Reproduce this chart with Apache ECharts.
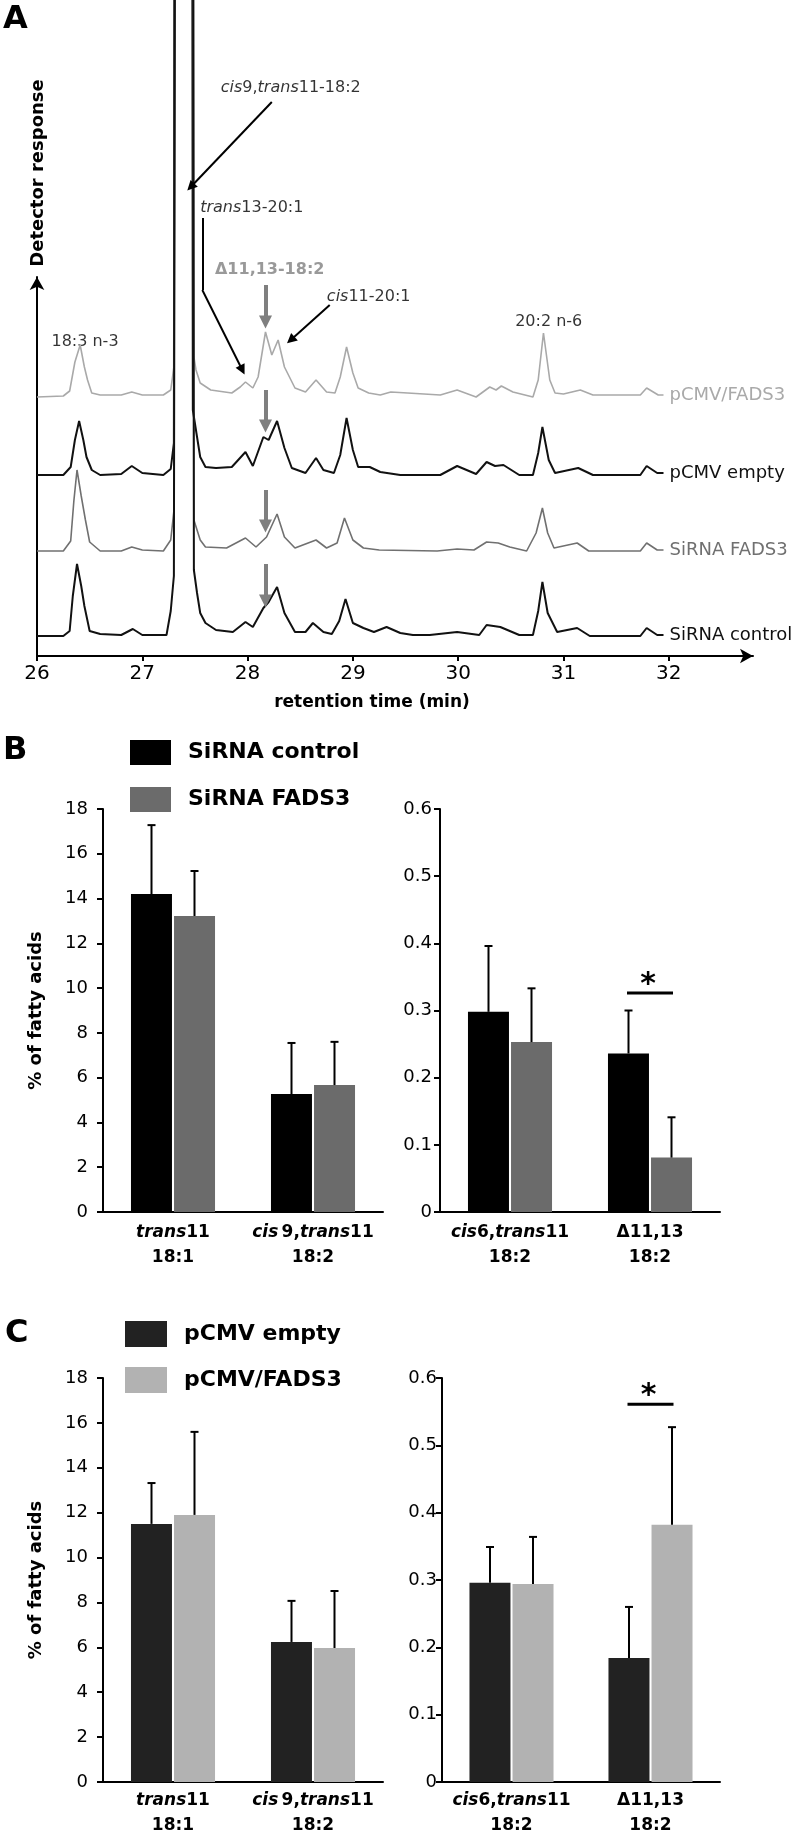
<!DOCTYPE html>
<html><head><meta charset="utf-8">
<script src="https://cdn.jsdelivr.net/npm/echarts@6/dist/echarts.min.js"></script>
<style>html,body{margin:0;padding:0;background:#fff}#c{width:797px;height:1836px}</style>
</head><body><div id="c"></div>
<script>
// ---------------- Panel A : chromatograms ----------------
// [retention time (min), detector response above the trace's own baseline]
const traceNames = ['pCMV/FADS3', 'pCMV empty', 'SiRNA FADS3', 'SiRNA control'];
const tracePCMVFADS3 = [[26.0,0],[26.25,1],[26.31,6],[26.36,35],[26.41,52],[26.45,30],[26.48,17],[26.52,4],[26.6,2],[26.8,2],[26.9,5],[27.0,2],[27.2,2],[27.27,7],[27.3,30],[27.33,2000],[27.47,2000],[27.49,40],[27.51,27],[27.55,14],[27.65,7],[27.85,4],[27.93,10],[27.98,15],[28.05,9],[28.1,20],[28.17,65],[28.23,42],[28.29,57],[28.35,30],[28.45,9],[28.55,5],[28.65,17],[28.75,5],[28.83,4],[28.88,20],[28.94,50],[29.0,24],[29.05,9],[29.15,4],[29.26,2],[29.36,5],[29.52,4],[29.83,2],[29.99,7],[30.17,0],[30.3,10],[30.36,7],[30.41,11],[30.52,5],[30.71,0],[30.76,17],[30.81,64],[30.87,17],[30.92,4],[31.0,3],[31.16,7],[31.28,2],[31.73,2],[31.79,9],[31.9,2],[31.95,2]];
const tracePCMVEmpty = [[26.0,0],[26.25,0],[26.32,8],[26.36,35],[26.4,54],[26.44,35],[26.47,18],[26.52,5],[26.6,0],[26.8,1],[26.9,9],[27.0,2],[27.2,0],[27.27,6],[27.3,32],[27.32,2000],[27.46,2000],[27.48,65],[27.52,38],[27.55,18],[27.6,8],[27.7,7],[27.85,8],[27.98,23],[28.05,9],[28.15,38],[28.2,35],[28.28,54],[28.35,27],[28.42,7],[28.55,2],[28.65,17],[28.72,5],[28.82,2],[28.88,20],[28.94,57],[29.0,25],[29.05,8],[29.16,8],[29.26,3],[29.45,0],[29.83,0],[29.99,9],[30.17,1],[30.27,13],[30.35,9],[30.43,10],[30.58,0],[30.71,0],[30.76,22],[30.8,48],[30.86,15],[30.92,2],[31.14,7],[31.28,0],[31.73,0],[31.79,9],[31.89,2],[31.95,2]];
const traceSiRNAFADS3 = [[26.0,0],[26.25,0],[26.32,10],[26.35,50],[26.38,81],[26.42,55],[26.46,31],[26.5,9],[26.6,0],[26.8,0],[26.9,4],[27.0,1],[27.2,0],[27.27,11],[27.3,40],[27.33,2000],[27.47,2000],[27.49,31],[27.55,11],[27.6,4],[27.8,3],[27.98,13],[28.08,4],[28.18,14],[28.28,37],[28.35,14],[28.45,3],[28.65,11],[28.75,3],[28.85,8],[28.92,33],[29.0,11],[29.1,3],[29.25,1],[29.8,0],[29.99,2],[30.15,1],[30.27,9],[30.38,8],[30.49,4],[30.65,0],[30.74,18],[30.8,43],[30.85,18],[30.91,3],[31.13,8],[31.24,0],[31.73,0],[31.79,8],[31.89,1],[31.95,1]];
const traceSiRNAControl = [[26.0,0],[26.25,0],[26.31,5],[26.34,40],[26.38,72],[26.42,50],[26.45,30],[26.5,5],[26.6,2],[26.8,1],[26.91,7],[27.0,1],[27.23,1],[27.27,25],[27.3,60],[27.33,2000],[27.47,2000],[27.49,66],[27.52,43],[27.55,23],[27.6,13],[27.7,6],[27.86,4],[27.98,14],[28.05,9],[28.15,28],[28.2,34],[28.28,49],[28.35,23],[28.45,4],[28.55,4],[28.62,13],[28.72,4],[28.8,2],[28.87,15],[28.93,37],[29.0,13],[29.1,8],[29.2,4],[29.32,9],[29.45,3],[29.57,1],[29.73,1],[29.99,4],[30.2,1],[30.27,11],[30.4,9],[30.58,1],[30.71,1],[30.76,25],[30.8,54],[30.85,23],[30.94,4],[31.13,8],[31.25,0],[31.73,0],[31.79,8],[31.89,1],[31.95,1]];
const timeTicks = [26, 27, 28, 29, 30, 31, 32];

// ---------------- Panels B and C : bars ----------------
const catsLeft = ['trans11 18:1', 'cis9,trans11 18:2'];
const catsRight = ['cis6,trans11 18:2', 'Δ11,13 18:2'];
const tickLabelsLeft = ['{i|trans}{b|11}\n{b|18:1}', '{i|cis} {b|9,}{i|trans}{b|11}\n{b|18:2}'];
const tickLabelsRight = ['{i|cis}{b|6,}{i|trans}{b|11}\n{b|18:2}', '{b|Δ11,13}\n{b|18:2}'];

const siCtrlLeft = [14.2, 5.27],   siCtrlLeftSD = [3.08, 2.28];
const siFadsLeft = [13.22, 5.67],  siFadsLeftSD = [2.01, 1.93];
const siCtrlRight = [0.298, 0.236], siCtrlRightSD = [0.098, 0.064];
const siFadsRight = [0.253, 0.081], siFadsRightSD = [0.080, 0.060];

const pEmptyLeft = [11.5, 6.24],   pEmptyLeftSD = [1.82, 1.83];
const pFadsLeft = [11.9, 5.97],    pFadsLeftSD = [3.70, 2.54];
const pEmptyRight = [0.296, 0.184], pEmptyRightSD = [0.053, 0.076];
const pFadsRight = [0.294, 0.382],  pFadsRightSD = [0.070, 0.145];

const sigB = [[1, 0.326]];   // significance bar (category index, level)
const sigC = [[1, 0.561]];

// ---------------- styling / layout ----------------
const FONT = 'DejaVu Sans';
const traceOffsets = [259, 181, 105, 20];
const traceColors = ['#a9a9a9', '#111111', '#707070', '#111111'];
const traceWidths = [1.6, 2, 1.6, 2];
const traces = [tracePCMVFADS3, tracePCMVEmpty, traceSiRNAFADS3, traceSiRNAControl];

const chart = echarts.init(document.getElementById('c'), null, {renderer: 'canvas', width: 797, height: 1836});

function gridDef(left, top, width, height) {
  return {left, top, width, height, containLabel: false, outerBoundsMode: 'none'};
}
const axisBlack = {show: true, onZero: false, lineStyle: {color: '#000', width: 2}};
const richCat = {
  i: {fontFamily: FONT, fontStyle: 'italic', fontWeight: 'bold', fontSize: 17, color: '#000', lineHeight: 25},
  b: {fontFamily: FONT, fontWeight: 'bold', fontSize: 17, color: '#000', lineHeight: 25}
};
function catAxis(gi, cats, labels, margin) {
  return {gridIndex: gi, type: 'category', data: cats, axisLine: axisBlack, axisTick: {show: false},
    axisLabel: {interval: 0, margin, formatter: (v, i) => labels[i], rich: richCat}, splitLine: {show: false}};
}
function valAxis(gi, max, interval, margin, name) {
  return {gridIndex: gi, type: 'value', min: 0, max, interval, axisLine: axisBlack,
    axisTick: {show: true, length: 6, lineStyle: {color: '#000', width: 2}},
    axisLabel: {fontFamily: FONT, fontSize: 18, color: '#000', margin},
    splitLine: {show: false},
    name: name || '', nameLocation: 'middle', nameGap: 58,
    nameTextStyle: {fontFamily: FONT, fontWeight: 'bold', fontSize: 18, color: '#000'}};
}
function barSeries(name, gi, data, color) {
  return {type: 'bar', name, xAxisIndex: gi, yAxisIndex: gi, data, barWidth: 41, barGap: '5%',
    itemStyle: {color}, silent: true};
}
function errSeries(gi, means, sds, offset) {
  return {type: 'custom', xAxisIndex: gi, yAxisIndex: gi, silent: true, z: 3,
    data: means.map((m, i) => [i, m, sds[i]]), encode: {x: 0, y: 1},
    renderItem: (params, api) => {
      const base = api.coord([api.value(0), api.value(1)]);
      const top = api.coord([api.value(0), api.value(1) + api.value(2)]);
      const x = base[0] + offset;
      const st = {stroke: '#000', lineWidth: 2};
      return {type: 'group', children: [
        {type: 'line', shape: {x1: x, y1: base[1], x2: x, y2: top[1]}, style: st},
        {type: 'line', shape: {x1: x - 4, y1: top[1], x2: x + 4, y2: top[1]}, style: st}
      ]};
    }};
}
function sigSeries(gi, data) {
  return {type: 'custom', xAxisIndex: gi, yAxisIndex: gi, silent: true, z: 4,
    data, encode: {x: 0, y: 1},
    renderItem: (params, api) => {
      const p = api.coord([api.value(0), api.value(1)]);
      return {type: 'group', children: [
        {type: 'line', shape: {x1: p[0] - 23, y1: p[1], x2: p[0] + 23, y2: p[1]}, style: {stroke: '#000', lineWidth: 3}},
        {type: 'text', x: p[0] - 2, y: p[1] - 8, style: {text: '*', fontFamily: FONT, fontWeight: 'bold', fontSize: 30, align: 'center', verticalAlign: 'middle', fill: '#000'}}
      ]};
    }};
}

const series = [];
traces.forEach((pts, i) => {
  series.push({type: 'line', name: 'trace ' + traceNames[i], xAxisIndex: 0, yAxisIndex: 0, silent: true,
    data: pts.map(p => [p[0], p[1] + traceOffsets[i]]), showSymbol: false, symbol: 'none',
    lineStyle: {color: traceColors[i], width: traceWidths[i]}, itemStyle: {color: traceColors[i]},
    endLabel: {show: true, formatter: () => traceNames[i], color: traceColors[i], fontFamily: FONT, fontSize: 18, distance: 6}});
});

// annotation arrows (data coordinates of panel A)
const grayArrow = {color: '#7f7f7f', width: 4};
series.push({type: 'line', name: 'annotations', xAxisIndex: 0, yAxisIndex: 0, data: [], silent: true,
  itemStyle: {color: '#000'},
  markLine: {silent: true, symbol: ['none', 'triangle'], symbolSize: 10, label: {show: false},
    lineStyle: {color: '#000', width: 2, type: 'solid'}, emphasis: {disabled: true},
    data: [
      [{coord: [28.23, 554]}, {coord: [27.46, 469]}],
      [{coord: [27.57, 438], symbol: 'none'}, {coord: [27.57, 366], symbol: 'none'}],
      [{coord: [27.57, 366]}, {coord: [27.95, 286]}],
      [{coord: [28.78, 351]}, {coord: [28.41, 316]}],
      [{coord: [28.17, 371], lineStyle: grayArrow, symbol: 'none'}, {coord: [28.17, 334], symbolSize: 13, itemStyle: {color: '#7f7f7f'}}],
      [{coord: [28.17, 266], lineStyle: grayArrow, symbol: 'none'}, {coord: [28.17, 230], symbolSize: 13, itemStyle: {color: '#7f7f7f'}}],
      [{coord: [28.17, 166], lineStyle: grayArrow, symbol: 'none'}, {coord: [28.17, 130], symbolSize: 13, itemStyle: {color: '#7f7f7f'}}],
      [{coord: [28.17, 92], lineStyle: grayArrow, symbol: 'none'}, {coord: [28.17, 55], symbolSize: 13, itemStyle: {color: '#7f7f7f'}}]
    ]}});

// annotation texts
const richAnno = {
  n: {fontFamily: FONT, fontSize: 16, color: '#000'},
  i: {fontFamily: FONT, fontSize: 16, fontStyle: 'italic', color: '#000'},
  g: {fontFamily: FONT, fontSize: 16, fontWeight: 'bold', color: '#808080'}
};
const annoTexts = [
  [26.456, 314, '{n|18:3 n-3}'],
  [28.41, 568, '{i|cis}{n|9,}{i|trans}{n|11-18:2}'],
  [28.04, 448, '{i|trans}{n|13-20:1}'],
  [28.21, 386, '{g|Δ11,13-18:2}'],
  [29.15, 359, '{i|cis}{n|11-20:1}'],
  [30.86, 334, '{n|20:2 n-6}']
];
series.push({type: 'scatter', name: 'annotation text', xAxisIndex: 0, yAxisIndex: 0, silent: true,
  symbolSize: 1, itemStyle: {color: 'rgba(0,0,0,0)'},
  data: annoTexts.map(a => ({value: [a[0], a[1]], label: {show: true, position: 'inside', formatter: a[2], rich: richAnno}}))});

// bars
series.push(barSeries('SiRNA control', 2, siCtrlLeft, '#000000'));
series.push(barSeries('SiRNA FADS3', 2, siFadsLeft, '#6b6b6b'));
series.push(barSeries('SiRNA control', 3, siCtrlRight, '#000000'));
series.push(barSeries('SiRNA FADS3', 3, siFadsRight, '#6b6b6b'));
series.push(barSeries('pCMV empty', 4, pEmptyLeft, '#222222'));
series.push(barSeries('pCMV/FADS3', 4, pFadsLeft, '#b2b2b2'));
series.push(barSeries('pCMV empty', 5, pEmptyRight, '#222222'));
series.push(barSeries('pCMV/FADS3', 5, pFadsRight, '#b2b2b2'));
series.push(errSeries(2, siCtrlLeft, siCtrlLeftSD, -21.5));
series.push(errSeries(2, siFadsLeft, siFadsLeftSD, 21.5));
series.push(errSeries(3, siCtrlRight, siCtrlRightSD, -21.5));
series.push(errSeries(3, siFadsRight, siFadsRightSD, 21.5));
series.push(errSeries(4, pEmptyLeft, pEmptyLeftSD, -21.5));
series.push(errSeries(4, pFadsLeft, pFadsLeftSD, 21.5));
series.push(errSeries(5, pEmptyRight, pEmptyRightSD, -21.5));
series.push(errSeries(5, pFadsRight, pFadsRightSD, 21.5));
series.push(sigSeries(3, sigB));
series.push(sigSeries(5, sigC));

const legendBase = {orient: 'vertical', icon: 'rect', selectedMode: false, padding: 0,
  textStyle: {fontFamily: FONT, fontWeight: 'bold', fontSize: 22, color: '#000', padding: [0, 0, 0, 12]}};

const option = {
  animation: false,
  backgroundColor: '#fff',
  grid: [gridDef(37, 0, 716, 656), gridDef(37, 277, 716, 379),
         gridDef(103, 809, 280, 403), gridDef(440, 809, 280, 403),
         gridDef(103, 1378, 280, 404), gridDef(442, 1378, 278, 404)],
  xAxis: [
    {gridIndex: 0, type: 'value', min: 26, max: 32.8,
     axisLine: Object.assign({}, axisBlack, {symbol: ['none', 'arrow'], symbolSize: [11, 13]}),
     axisTick: {show: true, customValues: timeTicks, length: 5, lineStyle: {color: '#000', width: 2}},
     axisLabel: {customValues: timeTicks, fontFamily: FONT, fontSize: 20, color: '#000', margin: 8},
     splitLine: {show: false}},
    {gridIndex: 1, type: 'value', min: 26, max: 32.8, show: false},
    catAxis(2, catsLeft, tickLabelsLeft, 8),
    catAxis(3, catsRight, tickLabelsRight, 8),
    catAxis(4, catsLeft, tickLabelsLeft, 6),
    catAxis(5, catsRight, tickLabelsRight, 6)
  ],
  yAxis: [
    {gridIndex: 0, type: 'value', min: 0, max: 656, show: false},
    {gridIndex: 1, type: 'value', min: 0, max: 1,
     axisLine: Object.assign({}, axisBlack, {symbol: ['none', 'arrow'], symbolSize: [11, 13]}),
     axisTick: {show: false}, axisLabel: {show: false}, splitLine: {show: false}},
    valAxis(2, 18, 2, 15, '% of fatty acids'),
    valAxis(3, 0.6, 0.1, 8),
    valAxis(4, 18, 2, 15, '% of fatty acids'),
    valAxis(5, 0.6, 0.1, 5)
  ],
  legend: [
    Object.assign({}, legendBase, {data: ['SiRNA control', 'SiRNA FADS3'], left: 130, top: 740, itemWidth: 41, itemHeight: 25, itemGap: 22}),
    Object.assign({}, legendBase, {data: ['pCMV empty', 'pCMV/FADS3'], left: 125, top: 1321, itemWidth: 42, itemHeight: 26, itemGap: 20})
  ],
  graphic: [
    {type: 'text', left: 3, top: 4, style: {text: 'A', fontFamily: FONT, fontWeight: 'bold', fontSize: 32, fill: '#000'}},
    {type: 'text', left: 3, top: 735, style: {text: 'B', fontFamily: FONT, fontWeight: 'bold', fontSize: 32, fill: '#000'}},
    {type: 'text', left: 5, top: 1318, style: {text: 'C', fontFamily: FONT, fontWeight: 'bold', fontSize: 32, fill: '#000'}},
    {type: 'text', x: 38, y: 173, rotation: Math.PI / 2,
     style: {text: 'Detector response', fontFamily: FONT, fontWeight: 'bold', fontSize: 18, fill: '#000', align: 'center', verticalAlign: 'middle'}},
    {type: 'text', x: 372, y: 703,
     style: {text: 'retention time (min)', fontFamily: FONT, fontWeight: 'bold', fontSize: 17, fill: '#000', align: 'center', verticalAlign: 'middle'}}
  ],
  series
};
chart.setOption(option);
</script>
</body></html>
